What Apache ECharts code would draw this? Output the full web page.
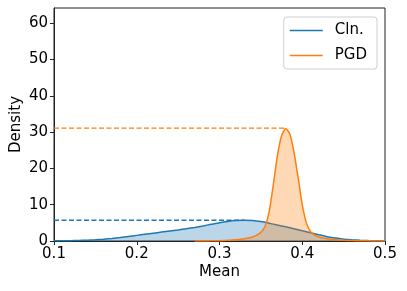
<!DOCTYPE html>
<html>
<head>
<meta charset="utf-8">
<script src="https://cdn.jsdelivr.net/npm/echarts@6/dist/echarts.min.js"></script>
<style>html,body{margin:0;padding:0;background:#fff}#c{width:407px;height:291px}</style>
</head>
<body>
<div id="c"></div>
<script>
var clnX = [0.10,0.11,0.12,0.13,0.14,0.15,0.16,0.17,0.18,0.19,0.20,0.21,0.22,0.23,0.24,0.25,0.26,0.27,0.28,0.29,0.30,0.31,0.32,0.33,0.34,0.35,0.36,0.37,0.38,0.39,0.40,0.41,0.42,0.43,0.44,0.45,0.46,0.47,0.48,0.49,0.50];
var clnY = [0.05,0.07,0.10,0.15,0.22,0.32,0.48,0.70,0.95,1.25,1.55,1.85,2.15,2.45,2.75,3.05,3.40,3.75,4.15,4.60,5.05,5.40,5.62,5.72,5.65,5.35,4.90,4.40,3.90,3.35,2.80,2.25,1.70,1.20,0.80,0.50,0.32,0.20,0.12,0.07,0.04];
var pgdX = [0.27,0.28,0.29,0.30,0.31,0.32,0.33,0.34,0.345,0.35,0.355,0.36,0.365,0.37,0.375,0.38,0.385,0.39,0.395,0.40,0.405,0.41,0.415,0.42,0.43,0.44,0.45,0.46,0.47,0.48,0.49,0.50];
var pgdY = [0.00,0.02,0.05,0.10,0.20,0.35,0.60,1.10,1.60,2.40,4.00,8.00,15.5,23.5,29.0,31.0,29.5,24.5,17.5,10.0,5.00,2.60,1.60,1.10,0.60,0.35,0.20,0.12,0.07,0.04,0.02,0.01];
var clnPeak = [[0.10,5.72],[0.33,5.72]];
var pgdPeak = [[0.10,31.1],[0.381,31.1]];
var xTicks = [0.1,0.2,0.3,0.4,0.5];
var yTicks = [0,10,20,30,40,50,60];

function zip(a,b){return a.map(function(v,i){return [v,b[i]];});}
var BLUE='#1f77b4', ORANGE='#ff7f0e';
var FONT='DejaVu Sans';
var chart = echarts.init(document.getElementById('c'), null, {renderer:'canvas'});
chart.setOption({
  animation:false,
  backgroundColor:'#fff',
  grid:{left:54,right:22,top:8,bottom:50,show:true,borderColor:'#222',borderWidth:1,
        containLabel:false,outerBoundsMode:'none'},
  legend:{
    data:['Cln.','PGD'],orient:'vertical',right:30,top:17,
    icon:'rect',itemWidth:33,itemHeight:1.5,itemGap:10,
    padding:[6,10,6,6],
    borderColor:'#d0d0d0',borderWidth:1,borderRadius:3,
    textStyle:{fontFamily:FONT,fontSize:15,color:'#000',padding:[0,0,0,7]}
  },
  xAxis:{
    type:'value',min:0.1,max:0.5,interval:0.1,
    name:'Mean',nameLocation:'middle',nameGap:24,nameMoveOverlap:false,
    nameTextStyle:{fontFamily:FONT,fontSize:15,color:'#000'},
    axisLine:{show:true,lineStyle:{color:'#222',width:1}},
    axisTick:{show:true,inside:false,length:4,lineStyle:{color:'#222'}},
    axisLabel:{fontFamily:FONT,fontSize:15,color:'#000',margin:6,
      customValues:xTicks,formatter:function(v){return v.toFixed(1);}},
    splitLine:{show:false}
  },
  yAxis:{
    type:'value',min:0,max:64.2,interval:10,
    name:'Density',nameLocation:'middle',nameGap:30,nameMoveOverlap:false,
    nameTextStyle:{fontFamily:FONT,fontSize:15,color:'#000'},
    axisLine:{show:true,lineStyle:{color:'#222',width:1}},
    axisTick:{show:true,inside:false,length:4,customValues:yTicks,lineStyle:{color:'#222'}},
    axisLabel:{fontFamily:FONT,fontSize:15,color:'#000',margin:6,customValues:yTicks},
    splitLine:{show:false}
  },
  series:[
    {name:'Cln.',type:'line',data:zip(clnX,clnY),smooth:0.2,symbol:'none',
     lineStyle:{color:BLUE,width:1.5},itemStyle:{color:BLUE},
     areaStyle:{color:BLUE,opacity:0.3},z:2},
    {name:'PGD',type:'line',data:zip(pgdX,pgdY),smooth:0.2,symbol:'none',
     lineStyle:{color:ORANGE,width:1.5},itemStyle:{color:ORANGE},
     areaStyle:{color:ORANGE,opacity:0.3},z:3},
    {name:'clnPeak',type:'line',data:clnPeak,symbol:'none',
     lineStyle:{color:BLUE,width:1.3,type:[5,2.5]},z:4},
    {name:'pgdPeak',type:'line',data:pgdPeak,symbol:'none',
     lineStyle:{color:ORANGE,width:1.3,type:[5,2.5]},z:4}
  ]
});
</script>
</body>
</html>
